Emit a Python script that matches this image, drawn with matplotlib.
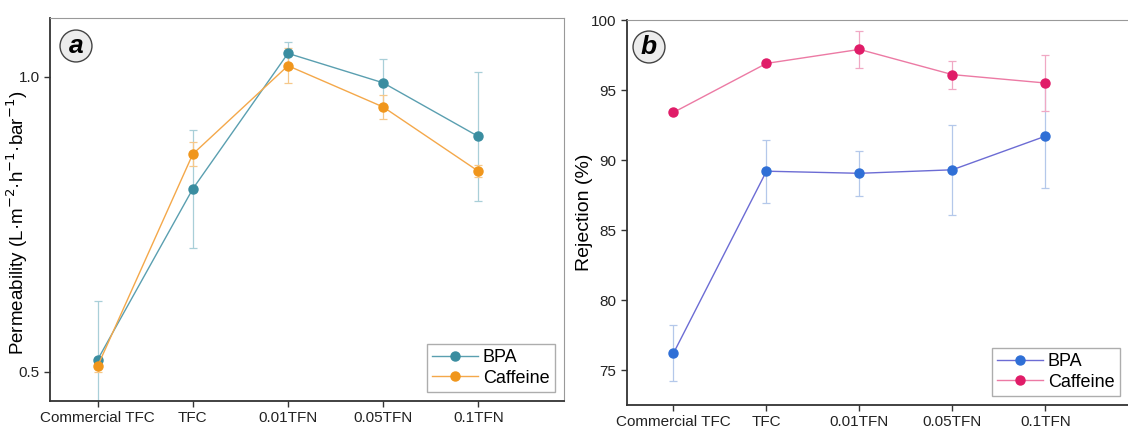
import matplotlib
matplotlib.use("Agg")
import matplotlib.pyplot as plt
import numpy as np

plt.rcParams['font.family'] = ['Liberation Sans', 'DejaVu Sans']

# data
membranes = ["Commercial TFC", "TFC", "0.01TFN", "0.05TFN", "0.1TFN"]

perm_bpa = [0.520, 0.810, 1.040, 0.990, 0.899]
perm_bpa_err = [0.100, 0.100, 0.020, 0.040, 0.110]
perm_caf = [0.509, 0.869, 1.019, 0.949, 0.840]
perm_caf_err = [0.010, 0.020, 0.030, 0.020, 0.010]

rej_bpa = [76.2, 89.2, 89.05, 89.3, 91.7]
rej_bpa_err = [2.0, 2.25, 1.6, 3.2, 3.7]
rej_caf = [93.4, 96.9, 97.9, 96.1, 95.5]
rej_caf_err = [0.1, 0.2, 1.3, 1.0, 2.0]

fig = plt.figure(figsize=(11.28, 4.32), dpi=100)
W, H = 1128.0, 432.0
ax1 = fig.add_axes([50 / W, 1 - 401 / H, 514 / W, 383 / H])
ax2 = fig.add_axes([627 / W, 1 - 405 / H, 502 / W, 385 / H])

x = np.arange(len(membranes))


def draw(ax, y, err, mcol, lcol, ecol, label):
    ax.errorbar(x, y, yerr=err, fmt='none', ecolor=ecol, elinewidth=0.9,
                capsize=3, capthick=0.9, zorder=2)
    ax.plot(x, y, '-o', color=lcol, lw=1.0, marker='o', markersize=6.5,
            markerfacecolor=mcol, markeredgecolor=mcol, label=label, zorder=3)


draw(ax1, perm_bpa, perm_bpa_err, '#3a8da0', '#5a9fb0', '#a9cfd8', 'BPA')
draw(ax1, perm_caf, perm_caf_err, '#f0961c', '#f4a84a', '#f6c88a', 'Caffeine')
draw(ax2, rej_bpa, rej_bpa_err, '#2f6fd6', '#6c6cd4', '#b4c8ea', 'BPA')
draw(ax2, rej_caf, rej_caf_err, '#e01c68', '#ec7aa4', '#f0a8c4', 'Caffeine')

ax1.set_ylim(0.45, 1.1)
ax1.set_yticks([0.5, 1.0])
ax1.set_ylabel('Permeability (L·m$^{-2}$·h$^{-1}$·bar$^{-1}$)', fontsize=13.5)
ax1.yaxis.set_label_coords(-0.039, 0.465)
ax2.set_ylim(72.5, 100)
ax2.set_yticks([75, 80, 85, 90, 95, 100])
ax2.set_ylabel('Rejection (%)', fontsize=14)
ax2.yaxis.set_label_coords(-0.068, 0.5)

for ax, lab, pos in [(ax1, 'a', (76, 46)), (ax2, 'b', (649, 47))]:
    ax.set_xlim(-0.5, 4.9)
    ax.set_xticks(x)
    ax.set_xticklabels(membranes)
    ax.tick_params(axis='both', direction='out', labelsize=11, length=4,
                   width=1.0, color='#333333', labelcolor='#222222')
    for s in ['left', 'bottom']:
        ax.spines[s].set_color('#333333')
        ax.spines[s].set_linewidth(1.3)
    for s in ['top', 'right']:
        ax.spines[s].set_color('#999999')
        ax.spines[s].set_linewidth(0.8)
    leg = ax.legend(loc='lower right', fontsize=13, fancybox=False,
                    handlelength=2.5, handletextpad=0.3, borderpad=0.3,
                    labelspacing=0.2, borderaxespad=0.5)
    leg.get_frame().set_edgecolor('#999999')
    leg.get_frame().set_linewidth(1.0)
    fig.text(pos[0] / W, 1 - pos[1] / H, lab, fontsize=19, fontweight='bold',
             fontstyle='italic', ha='center', va='center',
             bbox=dict(boxstyle='circle,pad=0.15', fc='#ececec', ec='#444444', lw=1.0))

ax2.spines['right'].set_visible(False)

plt.savefig('out.png', dpi=100)
plt.close()
